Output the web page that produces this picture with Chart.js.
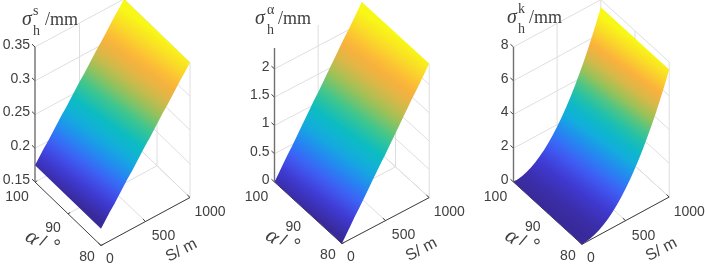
<!DOCTYPE html>
<html>
<head>
<meta charset="utf-8">
<title>sigma h</title>
<script src="https://cdn.jsdelivr.net/npm/chart.js@4/dist/chart.umd.min.js"></script>
<style>
    html, body { margin: 0; padding: 0; background: #fff; }
    #page { position: relative; width: 705px; height: 266px; overflow: hidden; }
    canvas { position: absolute; top: 0; filter: blur(0.35px); }
</style>
</head>
<body>
<div id="page">
    <canvas id="chart-s" width="235" height="266" style="left:0"></canvas>
    <canvas id="chart-a" width="235" height="266" style="left:235px"></canvas>
    <canvas id="chart-k" width="235" height="266" style="left:470px"></canvas>
</div>
<script>
// values
const sValues = [0, 50, 100, 150, 200, 250, 300, 350, 400, 450, 500, 550, 600, 650, 700, 750, 800, 850, 900, 950, 1000];
const sigmaS = [0.175, 0.184, 0.193, 0.201, 0.21, 0.219, 0.228, 0.236, 0.245, 0.254, 0.263, 0.271, 0.28, 0.289, 0.298, 0.306, 0.315, 0.324, 0.333, 0.341, 0.35];
const sigmaA = [0, 0.12, 0.24, 0.36, 0.47, 0.59, 0.71, 0.83, 0.95, 1.07, 1.18, 1.3, 1.42, 1.54, 1.66, 1.78, 1.9, 2.01, 2.13, 2.25, 2.37];
const sigmaK = [0, 0.02, 0.08, 0.17, 0.3, 0.47, 0.68, 0.92, 1.21, 1.53, 1.89, 2.28, 2.72, 3.19, 3.7, 4.25, 4.83, 5.45, 6.12, 6.81, 7.55];
const alphaRange = [100, 80];
const sTicks = [0, 500, 1000];
const alphaTicks = [100, 90, 80];
const zTicksS = [0.15, 0.2, 0.25, 0.3, 0.35];
const zTicksA = [0, 0.5, 1, 1.5, 2];
const zTicksK = [0, 2, 4, 6, 8];

const mapColors = ['#392a9a', '#3f38d0', '#405cf6', '#2488f2', '#12aedc', '#0cbcc0', '#3cc690', '#94c25a', '#d8b848', '#fdb03c', '#fad82a', '#f8f816'];

const ink = '#404040';
const gridColor = '#dedede';

const panels = [
    { id: 'chart-s', z: sigmaS, ticks: zTicksS, zRange: [0.15, 0.35], ox: 35, oy: 182, alphaVec: [66, 63.5], sVec: [89, -48], zLen: 135,
      sup: 's', title: { x: 22, y: 25, supX: 33, subX: 33, unitX: 45 } },
    { id: 'chart-a', z: sigmaA, ticks: zTicksA, zRange: [0, 2.37], ox: 39.5, oy: 182, alphaVec: [67.4, 61.6], sVec: [87.3, -46], zLen: 134,
      sup: 'α', title: { x: 20, y: 24, supX: 32, subX: 32, unitX: 43 } },
    { id: 'chart-k', z: sigmaK, ticks: zTicksK, zRange: [0, 8], ox: 43.5, oy: 182, alphaVec: [68.4, 62.3], sVec: [87.3, -47.3], zLen: 135,
      sup: 'k', title: { x: 37, y: 23, supX: 48, subX: 48, unitX: 59 } }
];

// oblique projection of (S, alpha, z): x stays in px from the z axis, y stays in z units
const project = (p, s, alpha, z) => {
    const u = s / 1000;
    const v = (100 - alpha) / 20;
    const zPerPx = (p.zRange[1] - p.zRange[0]) / p.zLen;
    return {
        x: u * p.sVec[0] + v * p.alphaVec[0],
        y: z - (u * p.sVec[1] + v * p.alphaVec[1]) * zPerPx
    };
}

const lineSet = (points, color, width, order) => ({
    data: points,
    showLine: true,
    borderColor: color,
    borderWidth: width,
    pointRadius: 0,
    clip: false,
    order: order
});

const surfaceGradient = (chart, p) => {
    const { x: xs, y: ys } = chart.scales;
    const n = [0.58, -0.81]; // normal of the colour bands on screen
    const pts = sValues.map((s, i) => {
        const q = project(p, s, 90, p.z[i]);
        return [xs.getPixelForValue(q.x), ys.getPixelForValue(q.y)];
    });
    const t = pts.map(q => q[0] * n[0] + q[1] * n[1]);
    const len = t[t.length - 1] - t[0];
    const g = chart.ctx.createLinearGradient(pts[0][0], pts[0][1], pts[0][0] + n[0] * len, pts[0][1] + n[1] * len);
    const zLow = p.z[0];
    const zHigh = p.z[p.z.length - 1];
    p.z.forEach((z, i) => {
        const f = (z - zLow) / (zHigh - zLow) * (mapColors.length - 1);
        const k = Math.min(Math.floor(f), mapColors.length - 2);
        g.addColorStop((t[i] - t[0]) / len, mixColor(mapColors[k], mapColors[k + 1], f - k));
    });
    return g;
}

const mixColor = (a, b, f) => {
    const ca = [1, 3, 5].map(i => parseInt(a.substr(i, 2), 16));
    const cb = [1, 3, 5].map(i => parseInt(b.substr(i, 2), 16));
    const c = ca.map((v, i) => Math.round(v + (cb[i] - v) * f));
    return `rgb(${c[0]},${c[1]},${c[2]})`;
}

const buildDatasets = (p) => {
    const sets = [];
    const zLow = p.zRange[0];
    const zTop = p.zRange[1];
    const sMax = sTicks[sTicks.length - 1];
    const aFar = alphaRange[0];
    const aNear = alphaRange[1];

    // surface
    const edgeFar = sValues.map((s, i) => project(p, s, aFar, p.z[i]));
    const edgeNear = sValues.map((s, i) => project(p, s, aNear, p.z[i])).reverse();
    sets.push({
        data: edgeFar.concat(edgeNear),
        showLine: true,
        fill: 'shape',
        backgroundColor: (ctx) => ctx.chart.chartArea ? surfaceGradient(ctx.chart, p) : '#888',
        borderWidth: 0,
        pointRadius: 0,
        clip: false,
        order: 1
    });

    // wall and floor grid
    p.ticks.forEach(z => {
        sets.push(lineSet([project(p, 0, aFar, z), project(p, sMax, aFar, z), project(p, sMax, aNear, z)], gridColor, 1, 3));
    });
    sTicks.slice(1).forEach(s => {
        sets.push(lineSet([project(p, s, aFar, zLow), project(p, s, aFar, zTop)], gridColor, 1, 3));
        sets.push(lineSet([project(p, s, aFar, zLow), project(p, s, aNear, zLow)], gridColor, 1, 3));
    });
    alphaTicks.slice(1).forEach(a => {
        sets.push(lineSet([project(p, sMax, a, zLow), project(p, sMax, a, zTop)], gridColor, 1, 3));
        sets.push(lineSet([project(p, 0, a, zLow), project(p, sMax, a, zLow)], gridColor, 1, 3));
    });

    // axis lines and tick marks
    sets.push(lineSet([project(p, 0, aFar, zLow), project(p, 0, aFar, zTop)], '#707070', 1.4, 2));
    sets.push(lineSet([project(p, 0, aFar, zLow), project(p, 0, aNear, zLow)], '#404040', 1, 2));
    sets.push(lineSet([project(p, 0, aNear, zLow), project(p, sMax, aNear, zLow)], '#404040', 1, 2));
    p.ticks.forEach(z => {
        sets.push(lineSet([project(p, 0, aFar, z), project(p, 0, aFar + 0.9, z)], '#404040', 1, 2));
    });
    sTicks.forEach(s => {
        sets.push(lineSet([project(p, s, aNear, zLow), project(p, s, aNear + 0.8, zLow)], '#404040', 1, 2));
    });
    alphaTicks.forEach(a => {
        sets.push(lineSet([project(p, 0, a, zLow), project(p, 25, a, zLow)], '#404040', 1, 2));
    });
    return sets;
}

const putText = (ctx, text, x, y, font, rot) => {
    ctx.save();
    ctx.translate(x, y);
    if (rot) ctx.rotate(rot * Math.PI / 180);
    ctx.font = font;
    ctx.fillStyle = ink;
    ctx.textAlign = 'center';
    ctx.textBaseline = 'middle';
    ctx.fillText(text, 0, 0);
    ctx.restore();
}

const putLeft = (ctx, text, x, y, font) => {
    ctx.save();
    ctx.font = font;
    ctx.fillStyle = ink;
    ctx.textAlign = 'left';
    ctx.textBaseline = 'alphabetic';
    ctx.fillText(text, x, y);
    ctx.restore();
}

const textPlugin = (p) => ({
    id: 'axisText',
    afterDraw: (chart) => {
        const ctx = chart.ctx;
        const { x: xs, y: ys } = chart.scales;
        const at = (s, a) => {
            const q = project(p, s, a, p.zRange[0]);
            return [xs.getPixelForValue(q.x), ys.getPixelForValue(q.y)];
        };
        const tickFont = '14px "Liberation Sans"';

        const alphaOffsets = [[-18, 15], [-15, 14], [-14, 12]];
        alphaTicks.forEach((a, i) => {
            const q = at(0, a);
            putText(ctx, String(a), q[0] + alphaOffsets[i][0], q[1] + alphaOffsets[i][1], tickFont);
        });
        const sOffsets = [[9, 14], [18, 15], [20, 15]];
        sTicks.forEach((s, i) => {
            const q = at(s, alphaRange[1]);
            putText(ctx, String(s), q[0] + sOffsets[i][0], q[1] + sOffsets[i][1], tickFont);
        });

        const midA = at(0, 90);
        putText(ctx, 'α', midA[0] - 36, midA[1] + 24, 'italic 22px "Liberation Serif"', 35);
        putText(ctx, '/', midA[0] - 25, midA[1] + 28, '16px "Liberation Sans"', 25);
        putText(ctx, '°', midA[0] - 14, midA[1] + 33, '20px "Liberation Sans"', 35);

        const midS = at(500, alphaRange[1]);
        putText(ctx, 'S/ m', midS[0] + 36, midS[1] + 29, '16px "Liberation Sans"', -28);

        const t = p.title;
        putLeft(ctx, 'σ', t.x, t.y, 'italic 20px "Liberation Serif"');
        putLeft(ctx, p.sup, t.supX, t.y - 10, '14px "Liberation Serif"');
        putLeft(ctx, 'h', t.subX, t.y + 10, '14px "Liberation Serif"');
        putLeft(ctx, '/mm', t.unitX, t.y, '18px "Liberation Serif"');
    }
});

const makeChart = (p) => {
    const zPerPx = (p.zRange[1] - p.zRange[0]) / p.zLen;
    new Chart(document.getElementById(p.id).getContext('2d'), {
        type: 'scatter',
        data: { datasets: buildDatasets(p) },
        options: {
            responsive: false,
            animation: false,
            events: [],
            layout: { padding: 0 },
            plugins: { legend: { display: false }, tooltip: { enabled: false } },
            scales: {
                x: { type: 'linear', display: false, min: 0, max: 235 - p.ox },
                y: {
                    type: 'linear',
                    position: 'left',
                    min: p.zRange[0] - (266 - p.oy) * zPerPx,
                    max: p.zRange[0] + p.oy * zPerPx,
                    grid: { display: false, drawTicks: false, tickLength: 0 },
                    border: { display: false },
                    afterBuildTicks: (scale) => { scale.ticks = p.ticks.map(v => ({ value: v })); },
                    afterFit: (scale) => {
                        // chart area has to fill the whole canvas height
                        scale.width = p.ox;
                        scale.paddingTop = 0;
                        scale.paddingBottom = 0;
                    },
                    ticks: {
                        autoSkip: false,
                        padding: 5,
                        labelOffset: -2,
                        color: ink,
                        font: { family: '"Liberation Sans"', size: 14 },
                        callback: (v) => String(v)
                    }
                }
            }
        },
        plugins: [textPlugin(p)]
    });
}

panels.forEach(makeChart);
</script>
</body>
</html>
